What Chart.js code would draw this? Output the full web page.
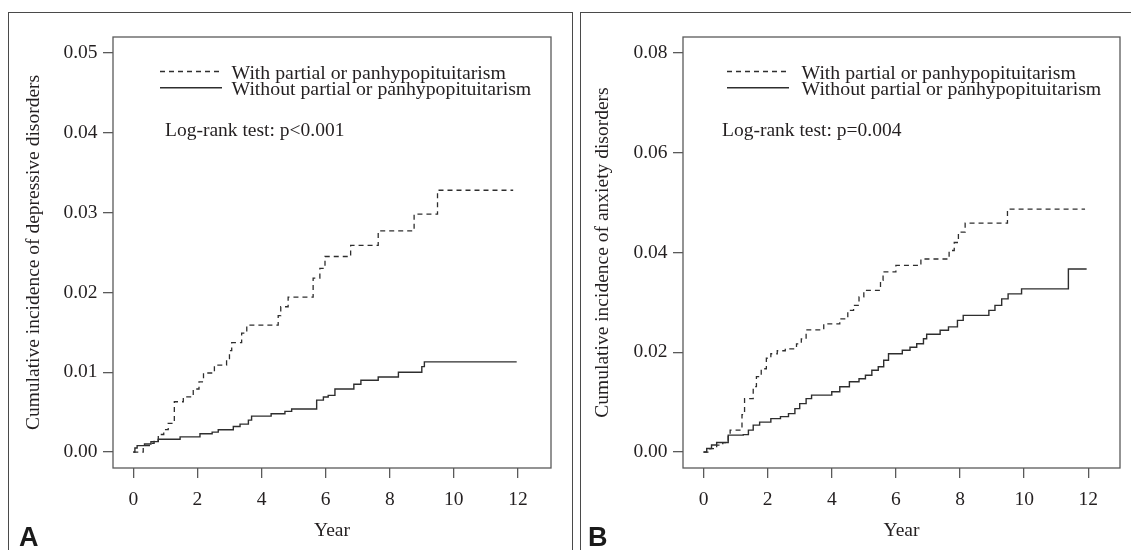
<!DOCTYPE html>
<html>
<head>
<meta charset="utf-8">
<script src="https://cdn.jsdelivr.net/npm/chart.js@4/dist/chart.umd.min.js"></script>
<style>
    html, body { margin: 0; padding: 0; background: #fff; }
    body { width: 1131px; height: 550px; position: relative; overflow: hidden; }
    .panel { position: absolute; top: 12px; height: 560px; box-sizing: border-box;
             border: 1.5px solid #4a4a4a; border-bottom: none; }
    #panelA { left: 8px; width: 565px; }
    #panelB { left: 580px; width: 570px; }
    .letter { position: absolute; font-family: "Liberation Sans", Arial, sans-serif;
              font-weight: bold; font-size: 27px; color: #1a1a1a; line-height: 1; }
    canvas { position: absolute; top: 12px; }
    #chartA { left: 8px; }
    #chartB { left: 580px; }
</style>
</head>
<body>
<div class="panel" id="panelA"></div>
<div class="panel" id="panelB"></div>
<canvas id="chartA" width="564" height="538"></canvas>
<canvas id="chartB" width="551" height="538"></canvas>
<div class="letter" style="left:19px; top:524px;">A</div>
<div class="letter" style="left:588px; top:524px;">B</div>

<script>
// ############################## DADOS ###########################################
var seriesLabels = ['With partial or panhypopituitarism', 'Without partial or panhypopituitarism'];
var xTicks = [0, 2, 4, 6, 8, 10, 12];
var yTicksA = [0, 0.01, 0.02, 0.03, 0.04, 0.05];
var yTicksB = [0, 0.02, 0.04, 0.06, 0.08];

// A - depressive disorders, with hypopituitarism (dashed)
var yearsWithA = [0, 0.31, 0.5, 0.65, 0.78, 0.95, 1.09, 1.28, 1.56, 1.87, 2.05, 2.19, 2.53, 2.91, 3.0, 3.07,
    3.38, 3.54, 4.52, 4.6, 4.83, 5.61, 5.82, 5.98, 6.78, 7.64, 8.76, 9.49, 11.85];
var incWithA = [0, 0.0008, 0.0011, 0.0015, 0.0022, 0.0028, 0.0036, 0.0063, 0.0069, 0.0079, 0.0088, 0.0099,
    0.0109, 0.0117, 0.0127, 0.0137, 0.0149, 0.0159, 0.0171, 0.0182, 0.0194, 0.0218, 0.023, 0.0245, 0.0259,
    0.0277, 0.0298, 0.0328, 0.0328];

// A - depressive disorders, without hypopituitarism (solid)
var yearsWithoutA = [0, 0.05, 0.12, 0.35, 0.55, 0.78, 1.46, 2.08, 2.46, 2.65, 3.12, 3.33, 3.59, 3.69, 4.3, 4.73,
    4.94, 5.72, 5.93, 6.08, 6.29, 6.88, 7.1, 7.64, 8.27, 9.0, 9.08, 11.96];
var incWithoutA = [0, 0.0005, 0.0008, 0.001, 0.0013, 0.0016, 0.0019, 0.0023, 0.0025, 0.0028, 0.0032, 0.0035,
    0.004, 0.0045, 0.0048, 0.0051, 0.0054, 0.0065, 0.0069, 0.0071, 0.0079, 0.0085, 0.009, 0.0094, 0.01,
    0.0107, 0.0113, 0.0113];

// B - anxiety disorders, with hypopituitarism (dashed)
var yearsWithB = [0, 0.2, 0.41, 0.6, 0.77, 0.83, 1.2, 1.28, 1.55, 1.65, 1.8, 1.96, 2.1, 2.3, 2.55, 2.9, 3.05,
    3.2, 3.75, 4.25, 4.5, 4.68, 4.85, 5.0, 5.52, 5.6, 6.0, 6.78, 7.66, 7.82, 7.95, 8.16, 9.48, 11.9];
var incWithB = [0, 0.0007, 0.0014, 0.0019, 0.0035, 0.0044, 0.0075, 0.0107, 0.0131, 0.0151, 0.0167, 0.0188,
    0.0197, 0.0203, 0.0207, 0.0217, 0.0227, 0.0245, 0.0257, 0.0267, 0.0284, 0.0294, 0.0311, 0.0324, 0.0344,
    0.0361, 0.0374, 0.0387, 0.0404, 0.042, 0.0441, 0.0459, 0.0487, 0.0487];

// B - anxiety disorders, without hypopituitarism (solid)
var yearsWithoutB = [0, 0.1, 0.25, 0.41, 0.77, 1.24, 1.4, 1.55, 1.75, 2.1, 2.4, 2.65, 2.85, 3.0, 3.2, 3.37, 4.0,
    4.25, 4.55, 4.85, 5.05, 5.25, 5.45, 5.62, 5.77, 6.2, 6.44, 6.65, 6.86, 6.96, 7.38, 7.64, 7.92, 8.1, 8.9,
    9.09, 9.3, 9.5, 9.92, 11.38, 11.95];
var incWithoutB = [0, 0.0007, 0.0014, 0.0019, 0.0034, 0.0035, 0.0044, 0.0054, 0.006, 0.0067, 0.0071, 0.0077,
    0.0087, 0.0097, 0.0107, 0.0114, 0.0121, 0.0131, 0.0141, 0.0147, 0.0154, 0.0164, 0.0171, 0.0184, 0.0197,
    0.0204, 0.021, 0.0217, 0.0227, 0.0236, 0.0244, 0.0251, 0.0264, 0.0274, 0.0284, 0.0294, 0.0307, 0.0317,
    0.0327, 0.0367, 0.0367];

var serif = '"Liberation Serif", "Times New Roman", serif';
var textColor = '#231f20';
var axisColor = '#5a5a5a';
var lineColor = '#2e2e2e';

/**
 * Junta anos e valores em pontos {x, y}
 */
function toPoints(years, values) {
    return years.map(function (t, i) {
        return {x: t, y: values[i]};
    });
}

// caixa do grafico, legenda e texto do teste log-rank
var framePlugin = {
    id: 'frame',
    afterDraw: function (chart) {
        var ctx = chart.ctx;
        var area = chart.chartArea;
        var opts = chart.options.plugins.frame;
        ctx.save();
        ctx.strokeStyle = axisColor;
        ctx.lineWidth = 1.3;
        ctx.strokeRect(area.left, area.top, area.right - area.left, area.bottom - area.top);

        ctx.font = '19.8px ' + serif;
        ctx.fillStyle = textColor;
        ctx.textBaseline = 'middle';
        ctx.textAlign = 'left';
        chart.data.datasets.forEach(function (ds, i) {
            var y = area.top + 36.5 + i * 16.3;
            ctx.strokeStyle = ds.borderColor;
            ctx.lineWidth = ds.borderWidth;
            ctx.setLineDash(ds.borderDash || []);
            ctx.beginPath();
            ctx.moveTo(area.left + opts.keyX, y - 2);
            ctx.lineTo(area.left + opts.keyX + 62, y - 2);
            ctx.stroke();
            ctx.setLineDash([]);
            ctx.fillText(ds.label, area.left + 118.5, y);
        });
        ctx.font = '19.5px ' + serif;
        ctx.fillText(opts.note, area.left + opts.noteX, area.top + 94);
        ctx.restore();
    }
};

/**
 * Cria o grafico de incidencia acumulada
 */
function createChart(canvasId, withPts, withoutPts, yMin, yMax, yTicks, xMin, xMax, setup) {
    return new Chart(document.getElementById(canvasId), {
        type: 'line',
        data: {
            datasets: [{
                label: seriesLabels[0],
                data: withPts,
                stepped: true,
                borderColor: lineColor,
                borderWidth: 1.3,
                borderDash: [5, 4],
                pointRadius: 0,
                fill: false
            }, {
                label: seriesLabels[1],
                data: withoutPts,
                stepped: true,
                borderColor: lineColor,
                borderWidth: 1.4,
                pointRadius: 0,
                fill: false
            }]
        },
        options: {
            responsive: false,
            animation: false,
            layout: {padding: {left: 0, top: 25, right: setup.padRight, bottom: 0}},
            plugins: {
                legend: {display: false},
                tooltip: {enabled: false},
                frame: {note: setup.note, noteX: setup.noteX, keyX: setup.keyX}
            },
            scales: {
                x: {
                    type: 'linear',
                    min: xMin,
                    max: xMax,
                    afterFit: function (scale) { scale.height = 82; },
                    afterBuildTicks: function (scale) {
                        scale.ticks = xTicks.map(function (v) { return {value: v}; });
                    },
                    grid: {drawOnChartArea: false, tickLength: 10, color: axisColor, lineWidth: 1.3},
                    border: {display: false},
                    ticks: {
                        padding: 10.5,
                        autoSkip: false,
                        maxRotation: 0,
                        color: textColor,
                        font: {family: serif, size: 19.5},
                        callback: function (v) { return String(v); }
                    },
                    title: {
                        display: true,
                        text: 'Year',
                        color: textColor,
                        font: {family: serif, size: 19.5},
                        padding: {top: 0, bottom: 7}
                    }
                },
                y: {
                    min: yMin,
                    max: yMax,
                    afterFit: function (scale) { scale.width = setup.yWidth; },
                    afterBuildTicks: function (scale) {
                        scale.ticks = yTicks.map(function (v) { return {value: v}; });
                    },
                    grid: {drawOnChartArea: false, tickLength: 10, color: axisColor, lineWidth: 1.3},
                    border: {display: false},
                    ticks: {
                        padding: 5.5,
                        autoSkip: false,
                        color: textColor,
                        font: {family: serif, size: 19.5},
                        callback: function (v) { return Number(v).toFixed(2); }
                    },
                    title: {
                        display: true,
                        text: setup.yTitle,
                        color: textColor,
                        font: {family: serif, size: 19.5},
                        padding: {top: setup.titlePad, bottom: 0}
                    }
                }
            }
        },
        plugins: [framePlugin]
    });
}

// ############################## PAINEL A ###########################################
createChart('chartA', toPoints(yearsWithA, incWithA), toPoints(yearsWithoutA, incWithoutA),
    -0.002, 0.052, yTicksA, -0.633, 13.03, {
        padRight: 21, yWidth: 105, titlePad: 14.3, keyX: 47, noteX: 52,
        note: 'Log-rank test: p<0.001',
        yTitle: 'Cumulative incidence of depressive disorders'
    });

// ############################## PAINEL B ###########################################
createChart('chartB', toPoints(yearsWithB, incWithB), toPoints(yearsWithoutB, incWithoutB),
    -0.0032, 0.0832, yTicksB, -0.64, 12.99, {
        padRight: 11, yWidth: 103, titlePad: 10.7, keyX: 44, noteX: 39,
        note: 'Log-rank test: p=0.004',
        yTitle: 'Cumulative incidence of anxiety disorders'
    });
</script>
</body>
</html>
